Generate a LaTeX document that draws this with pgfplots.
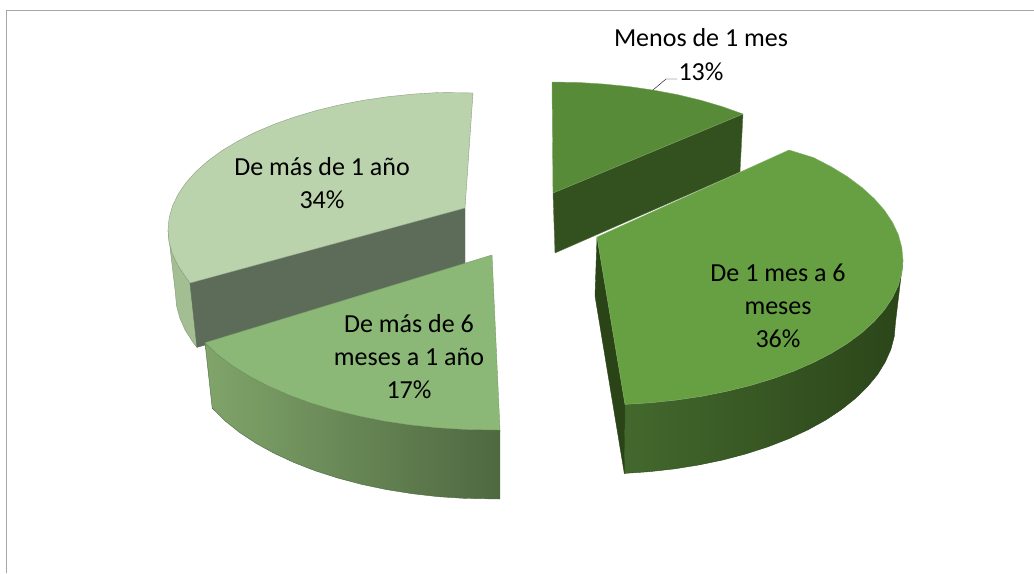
\documentclass[border=0pt]{standalone}
\usepackage{pgfplots}
\pgfplotsset{compat=1.18}
\usepackage{fontspec}
\setmainfont{Carlito}
\definecolor{aTop}{HTML}{578B37}
\definecolor{aCut}{HTML}{33501F}
\definecolor{bTop}{HTML}{66A042}
\definecolor{bWallL}{HTML}{43682D}
\definecolor{bWallR}{HTML}{2B4519}
\definecolor{bCut}{HTML}{2A4418}
\definecolor{cTop}{HTML}{8BB877}
\definecolor{cWallL}{HTML}{80A46A}
\definecolor{cWallR}{HTML}{4E6840}
\definecolor{dTop}{HTML}{BBD3AC}
\definecolor{dCut}{HTML}{5D6B59}
\definecolor{dWall}{HTML}{A3BE93}
\definecolor{frame}{HTML}{A6A6A6}
\begin{document}
\begin{tikzpicture}
\begin{axis}[
  width=1034bp, height=573bp, scale only axis,
  xmin=0, xmax=1034, ymin=0, ymax=573, y dir=reverse,
  hide axis, clip=true,
  every axis plot/.append style={line join=round},
]
% frame
\addplot[frame, line width=1.2pt] coordinates {(6.5,573) (6.5,10.5) (1034,10.5)};

% ---- Menos de 1 mes (13%) ----
\addplot[fill=aCut, draw=aCut!80!white, thin] coordinates {
 (553,193) (743,114) (740,172) (555,253)} -- cycle;
\addplot[fill=aTop, draw=aTop!80!white, thin] coordinates {
 (553,193) (552,82) (578.7,82.5) (604.2,84.1) (629.3,86.6) (653.9,90.2) (677.7,94.7)
 (700.5,100.2) (722.2,106.6) (743,114)} -- cycle;

% ---- De más de 1 año (34%) ----
\addplot[fill=dWall, draw=dWall!80!black, thin] coordinates {
 (190,283) (185.9,277.2) (178.1,265.7) (172.5,254) (169.1,242) (168,230)
 (175.4,293) (176.5,305.6) (179.8,318) (185.3,330.3) (192.9,342.2) (197,347.4)} -- cycle;
\addplot[fill=dCut, draw=dCut, thin] coordinates {
 (190,283) (465,208) (465,267) (197,347.4)} -- cycle;
\addplot[fill=dTop, draw=dTop!75!black, thin] coordinates {
 (465,208) (190,283) (185.9,277.2) (178.1,265.7) (172.5,254) (169.1,242) (168,230)
 (169.1,218) (172.5,206) (178.1,194.3) (185.9,182.8) (195.8,171.7) (207.8,161)
 (221.7,150.8) (237.5,141.3) (255,132.4) (274,124.3) (294.6,117) (316.5,110.5)
 (339.5,104.9) (363.4,100.3) (388.1,96.7) (413.3,94.1) (439.1,92.5) (473,93)} -- cycle;

% ---- De 1 mes a 6 meses (36%) ----
\addplot[fill=bCut, draw=bCut, thin] coordinates {
 (597,237) (625,404.4) (624.3,473.4) (595,296)} -- cycle;
\addplot[left color=bWallL, right color=bWallR, draw=bWallR, thin] coordinates {
 (903,260) (901.8,272.6) (898.4,285.2) (892.6,297.5) (884.6,309.6) (874.3,321.3)
 (862,332.5) (847.7,343.2) (831.4,353.2) (813.4,362.5) (793.8,371.1) (772.5,378.8)
 (750,385.6) (726.3,391.4) (701.7,396.3) (676.2,400.1) (650.2,402.8) (625,404.4)
 (624.3,473.4) (648.8,471.7) (674.2,468.9) (699.1,464.9) (723.1,459.9) (746.2,453.8)
 (768.2,446.7) (788.8,438.7) (808,429.8) (825.6,420.1) (841.4,409.6) (855.4,398.5)
 (867.4,386.8) (877.5,374.6) (885.2,362.1) (890.9,349.3) (894.3,336.2) (895.4,323)} -- cycle;
\addplot[fill=bTop, draw=bTop!80!white, thin] coordinates {
 (597,237) (789,150) (813.4,157.5) (831.4,166.8) (847.7,176.8) (862,187.5) (874.3,198.7)
 (884.6,210.4) (892.6,222.5) (898.4,234.8) (901.8,247.4) (903,260)
 (901.8,272.6) (898.4,285.2) (892.6,297.5) (884.6,309.6) (874.3,321.3)
 (862,332.5) (847.7,343.2) (831.4,353.2) (813.4,362.5) (793.8,371.1) (772.5,378.8)
 (750,385.6) (726.3,391.4) (701.7,396.3) (676.2,400.1) (650.2,402.8) (625,404.4)} -- cycle;

% ---- De más de 6 meses a 1 año (17%) ----
\addplot[left color=cWallL, right color=cWallR, draw=cWallR, thin] coordinates {
 (500,430) (464.4,429.4) (437.1,427.7) (410.2,424.9) (383.9,421) (358.5,415.9)
 (334,409.9) (310.7,402.9) (288.9,394.9) (268.6,386.1) (249.9,376.4) (233.1,366)
 (218.3,355) (205,342.7)
 (212.2,408.2) (225.2,421) (239.6,432.5) (256,443.3) (274.1,453.3) (293.9,462.5)
 (315.3,470.8) (338,478.1) (361.8,484.4) (386.6,489.6) (412.3,493.7) (438.5,496.7)
 (465.1,498.4) (499.8,499)} -- cycle;
\addplot[fill=cTop, draw=cTop!85!black, thin] coordinates {
 (492,255) (500,430) (464.4,429.4) (437.1,427.7) (410.2,424.9) (383.9,421) (358.5,415.9)
 (334,409.9) (310.7,402.9) (288.9,394.9) (268.6,386.1) (249.9,376.4) (233.1,366)
 (218.3,355) (205,342.7)} -- cycle;

% leader line
\addplot[black, thin] coordinates {(653,90) (666,79) (677,79)};

% labels
\node[align=center, font=\fontsize{26bp}{34bp}\selectfont] at (axis cs:701,55) {Menos de 1 mes\\13\%};
\node[align=center, font=\fontsize{26bp}{33bp}\selectfont] at (axis cs:322,183) {De más de 1 año\\34\%};
\node[align=center, font=\fontsize{26bp}{33bp}\selectfont] at (axis cs:778,306) {De 1 mes a 6\\meses\\36\%};
\node[align=center, font=\fontsize{26bp}{33bp}\selectfont] at (axis cs:409,357) {De más de 6\\meses a 1 año\\17\%};
\end{axis}
\pgfresetboundingbox
\path[use as bounding box] (current axis.south west) rectangle (current axis.north east);
\end{tikzpicture}
\end{document}
